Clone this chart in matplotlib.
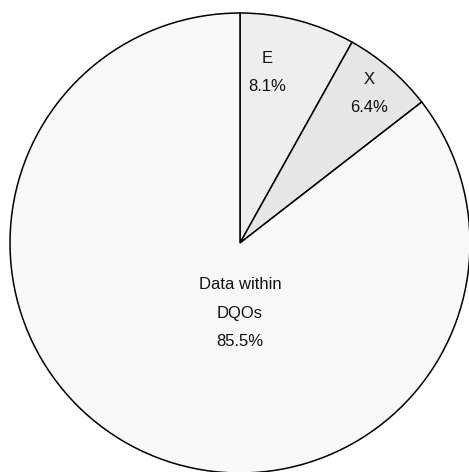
import numpy as np
import matplotlib.pyplot as plt

plt.rcParams['font.family'] = ['Liberation Sans', 'DejaVu Sans']

categories = ['E', 'X', 'Data within\nDQOs']
values = [8.1, 6.4, 85.5]
colors = ['#eeeeee', '#e6e6e6', '#f8f8f8']

# label placement (angle in degrees, distance as fraction of radius)
label_pos = [(81.0, 0.75), (49.1, 0.86), (-90.0, 0.305)]

fig = plt.figure(figsize=(4.69, 4.72), dpi=100)
ax = fig.add_axes([10 / 469, -1 / 472, 460 / 469, 460 / 472])

wedges, _ = ax.pie(values, colors=colors, startangle=90, counterclock=False,
                   wedgeprops=dict(edgecolor='black', linewidth=1.1))
for w in wedges:
    w.set_clip_on(False)

for cat, val, (ang, dist) in zip(categories, values, label_pos):
    x = dist * np.cos(np.radians(ang))
    y = dist * np.sin(np.radians(ang))
    ax.text(x, y, '%s\n%.1f%%' % (cat, val), ha='center', va='center',
            fontsize=12, linespacing=2.1, color='#111111')

ax.set_xlim(-1, 1)
ax.set_ylim(-1, 1)
ax.set_aspect('equal')
ax.axis('off')

fig.savefig('out.png', dpi=100)
